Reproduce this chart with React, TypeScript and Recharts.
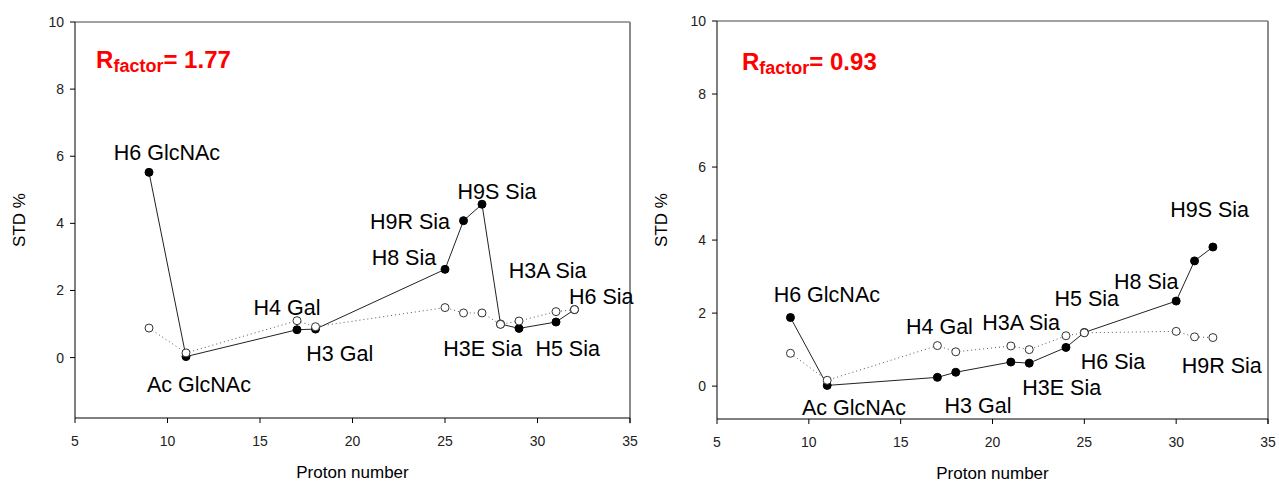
import React from "react";
import { LineChart, Line, XAxis, YAxis, ReferenceDot, ReferenceLine } from "recharts";

// ---------- data ----------
const leftX = [9, 11, 17, 18, 25, 26, 27, 28, 29, 31, 32];
const leftFilled = [5.52, 0.03, 0.83, 0.85, 2.63, 4.08, 4.57, 1.0, 0.87, 1.06, 1.43];
const leftOpen = [0.88, 0.14, 1.1, 0.92, 1.49, 1.33, 1.33, 0.99, 1.09, 1.37, 1.43];

const rightX = [9, 11, 17, 18, 21, 22, 24, 25, 30, 31, 32];
const rightFilled = [1.88, 0.02, 0.24, 0.38, 0.66, 0.63, 1.06, 1.47, 2.33, 3.43, 3.81];
const rightOpen = [0.9, 0.16, 1.11, 0.94, 1.1, 1.0, 1.38, 1.46, 1.5, 1.35, 1.33];

const xTicks = [5, 10, 15, 20, 25, 30, 35];
const yTicks = [0, 2, 4, 6, 8, 10];

const leftLabels = ["H6 GlcNAc", "Ac GlcNAc", "H4 Gal", "H3 Gal", "H8 Sia", "H9R Sia", "H9S Sia", "H3A Sia", "H6 Sia", "H3E Sia", "H5 Sia"];
const leftLabelX = [9.97, 11.7, 16.46, 19.31, 22.78, 23.11, 27.81, 30.55, 33.45, 27.04, 31.63];
const leftLabelY = [6.09, -0.82, 1.48, 0.1, 2.96, 4.05, 4.94, 2.59, 1.81, 0.25, 0.25];

const rightLabels = ["H6 GlcNAc", "Ac GlcNAc", "H4 Gal", "H3 Gal", "H3A Sia", "H5 Sia", "H8 Sia", "H9S Sia", "H6 Sia", "H3E Sia", "H9R Sia"];
const rightLabelX = [10.98, 12.46, 17.11, 19.21, 21.56, 25.13, 28.37, 31.82, 26.56, 23.77, 32.48];
const rightLabelY = [2.49, -0.61, 1.62, -0.55, 1.73, 2.38, 2.86, 4.82, 0.67, -0.06, 0.55];

const leftRFactor = "1.77";
const rightRFactor = "0.93";

const FONT = "'Liberation Sans', Arial, Helvetica, sans-serif";

const buildRows = (xs: number[], filled: number[], open: number[]) =>
  xs.map((x, i) => ({ x, filled: filled[i], open: open[i] }));

const annoShape = (text: string) => (props: any) => (
  <text
    x={props.cx}
    y={props.cy}
    textAnchor="middle"
    dominantBaseline="central"
    fontSize={21.5}
    fontFamily={FONT}
    fill="#000"
  >
    {text}
  </text>
);

const rShape = (value: string) => (props: any) => (
  <text x={props.cx} y={props.cy + 8.5} fontFamily={FONT} fontWeight="bold" fill="#ff0000" fontSize={24}>
    <tspan>R</tspan>
    <tspan fontSize={18} dy={4}>factor</tspan>
    <tspan dy={-4}>{"= " + value}</tspan>
  </text>
);

type PanelProps = {
  left: number;
  width: number;
  margin: { top: number; right: number; bottom: number; left: number };
  yMin: number;
  tickExt: number;
  xs: number[];
  filled: number[];
  open: number[];
  labels: string[];
  labelX: number[];
  labelY: number[];
  rValue: string;
  rX: number;
  rY: number;
};

function Panel(p: PanelProps) {
  const rows = buildRows(p.xs, p.filled, p.open);
  const plotLeft = p.margin.left + 40;
  const plotRight = p.width - p.margin.right;
  const plotTop = p.margin.top;
  const plotBottom = 482 - p.margin.bottom - 30;
  return (
    <div style={{ position: "absolute", left: p.left, top: 0, width: p.width, height: 482 }}>
      <LineChart width={p.width} height={482} data={rows} margin={p.margin}>
        <XAxis
          type="number"
          dataKey="x"
          domain={[5, 35]}
          ticks={xTicks}
          height={30}
          tickSize={5}
          tickMargin={13}
          axisLine={{ stroke: "#000", strokeWidth: 1 }}
          tickLine={{ stroke: "#000" }}
          tick={{ fill: "#222", fontSize: 14, fontFamily: FONT }}
          allowDataOverflow
        />
        <YAxis
          type="number"
          domain={[p.yMin, 10]}
          ticks={yTicks}
          width={40}
          tickSize={5}
          tickMargin={6}
          axisLine={{ stroke: "#000", strokeWidth: 1 }}
          tickLine={{ stroke: "#000" }}
          tick={{ fill: "#222", fontSize: 14, fontFamily: FONT }}
          allowDataOverflow
        />
        <ReferenceLine segment={[{ x: 5, y: 10 }, { x: 35, y: 10 }]} stroke="#444" strokeWidth={1} />
        <ReferenceLine
          segment={[{ x: 35, y: p.yMin - p.tickExt }, { x: 35, y: 10 }]}
          ifOverflow="visible"
          stroke="#8a8a8a"
          strokeWidth={2}
        />
        <Line
          dataKey="filled"
          stroke="#222"
          strokeWidth={1}
          dot={{ r: 4, fill: "#000", stroke: "#000", strokeWidth: 1, strokeDasharray: "none" }}
          activeDot={false}
          isAnimationActive={false}
        />
        <Line
          dataKey="open"
          stroke="#555"
          strokeWidth={1}
          strokeDasharray="1 3"
          dot={{ r: 4, fill: "#fff", stroke: "#333", strokeWidth: 1, strokeDasharray: "none" }}
          activeDot={false}
          isAnimationActive={false}
        />
        {p.labels.map((t, i) => (
          <ReferenceDot key={t + i} x={p.labelX[i]} y={p.labelY[i]} r={0} shape={annoShape(t)} />
        ))}
        <ReferenceDot x={p.rX} y={p.rY} r={0} shape={rShape(p.rValue)} />
      </LineChart>
      <div
        style={{
          position: "absolute",
          left: p.margin.left - 15,
          top: (plotTop + plotBottom) / 2,
          transform: "translate(-50%, -50%) rotate(-90deg)",
          fontFamily: FONT,
          fontSize: 17,
          color: "#000",
          whiteSpace: "nowrap",
        }}
      >
        STD %
      </div>
      <div
        style={{
          position: "absolute",
          left: (plotLeft + plotRight) / 2,
          top: plotBottom + 54.5,
          transform: "translate(-50%, -50%)",
          fontFamily: FONT,
          fontSize: 17,
          color: "#000",
          whiteSpace: "nowrap",
        }}
      >
        Proton number
      </div>
    </div>
  );
}

export default function App() {
  return (
    <div style={{ position: "absolute", left: 0, top: 0, width: 1279, height: 482, background: "#fff", overflow: "hidden" }}>
      <Panel
        left={0}
        width={640}
        margin={{ top: 22, right: 10, bottom: 34, left: 35 }}
        yMin={-1.8}
        tickExt={0.16}
        xs={leftX}
        filled={leftFilled}
        open={leftOpen}
        labels={leftLabels}
        labelX={leftLabelX}
        labelY={leftLabelY}
        rValue={leftRFactor}
        rX={6.14}
        rY={8.89}
      />
      <Panel
        left={640}
        width={639}
        margin={{ top: 21, right: 11, bottom: 33, left: 37 }}
        yMin={-0.9}
        tickExt={0.14}
        xs={rightX}
        filled={rightFilled}
        open={rightOpen}
        labels={rightLabels}
        labelX={rightLabelX}
        labelY={rightLabelY}
        rValue={rightRFactor}
        rX={6.36}
        rY={8.88}
      />
    </div>
  );
}
